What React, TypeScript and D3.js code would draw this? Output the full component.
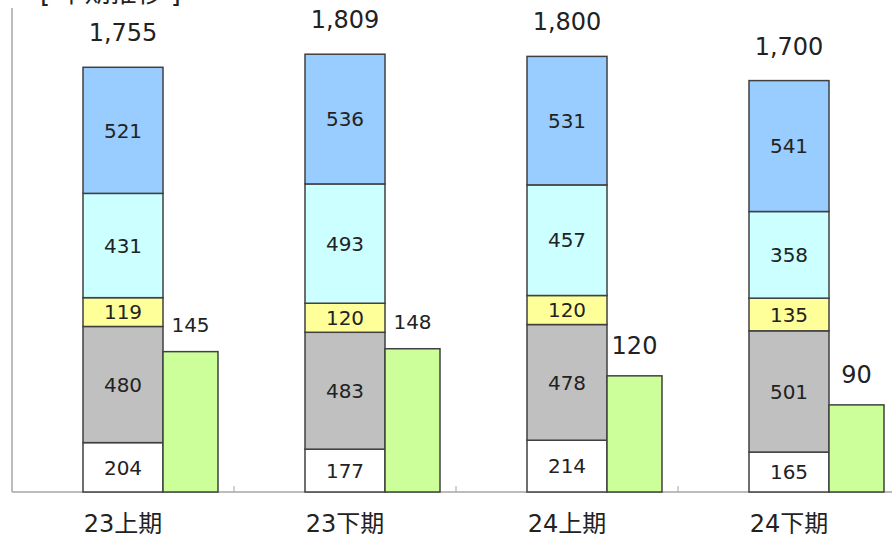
import React from "react";
import * as d3 from "d3";

const categories = ["23上期", "23下期", "24上期", "24下期"];
const seriesKeys = ["s1", "s2", "s3", "s4", "s5"];
const s1 = [204, 177, 214, 165];
const s2 = [480, 483, 478, 501];
const s3 = [119, 120, 120, 135];
const s4 = [431, 493, 457, 358];
const s5 = [521, 536, 531, 541];
const greenValues = [145, 148, 120, 90];
const totalLabels = ["1,755", "1,809", "1,800", "1,700"];
const title = "[ 半期推移 ]";

const seriesColors = ["#ffffff", "#c0c0c0", "#ffff99", "#ccffff", "#99ccff"];
const greenColor = "#ccff99";
const greenFontSizes = [20, 20, 24, 24];

const W = 892;
const H = 534;
const FONT = "'DejaVu Sans', 'Noto Sans CJK JP', sans-serif";

export default function App() {
  const plotLeft = 12;
  const plotRight = 900;
  const plotTop = 8;
  const plotBottom = 492;

  const x = d3.scaleBand<string>().domain(categories).range([plotLeft, plotRight]).padding(0);
  const y = d3.scaleLinear().domain([0, 2000]).range([plotBottom, plotTop]);
  const y2 = d3.scaleLinear().domain([0, 500]).range([plotBottom, plotTop]);

  const rows = categories.map((c, i) => ({
    cat: c,
    s1: s1[i],
    s2: s2[i],
    s3: s3[i],
    s4: s4[i],
    s5: s5[i],
  }));
  const stack = d3.stack<any>().keys(seriesKeys)(rows);

  const barW = 80;
  const greenW = 55;
  const stroke = "#404040";

  return (
    <svg width={W} height={H} style={{ position: "absolute", left: 0, top: 0, background: "#fff" }} fontFamily={FONT}>
      <rect x={0} y={0} width={W} height={H} fill="#ffffff" />
      <text x={40} y={2} fontSize={26} fill="#222">{title}</text>

      {/* axes */}
      <line x1={plotLeft} x2={plotLeft} y1={plotTop} y2={plotBottom} stroke="#a6a6a6" strokeWidth={1.5} />
      <line x1={plotLeft} x2={W} y1={plotBottom} y2={plotBottom} stroke="#a6a6a6" strokeWidth={1.5} />
      {categories.slice(1).map((c) => (
        <line key={c} x1={x(c)!} x2={x(c)!} y1={plotBottom} y2={plotBottom - 6} stroke="#a6a6a6" strokeWidth={1} />
      ))}

      {/* stacked bars */}
      {stack.map((layer, si) =>
        layer.map((d, i) => {
          const cx = x(categories[i])! + x.bandwidth() / 2;
          const y0 = y(d[0]);
          const y1 = y(d[1]);
          const v = d[1] - d[0];
          return (
            <g key={`${si}-${i}`}>
              <rect
                x={cx - barW / 2}
                y={y1}
                width={barW}
                height={y0 - y1}
                fill={seriesColors[si]}
                stroke={stroke}
                strokeWidth={1.5}
              />
              <text x={cx} y={(y0 + y1) / 2} dy="0.36em" textAnchor="middle" fontSize={20} fill="#222">
                {v}
              </text>
            </g>
          );
        })
      )}

      {/* totals */}
      {categories.map((c, i) => {
        const cx = x(c)! + x.bandwidth() / 2;
        const top = y(stack[stack.length - 1][i][1]);
        return (
          <text key={c} x={cx} y={top - 26} textAnchor="middle" fontSize={24} fill="#222">
            {totalLabels[i]}
          </text>
        );
      })}

      {/* green bars (secondary axis) */}
      {categories.map((c, i) => {
        const cx = x(c)! + x.bandwidth() / 2;
        const gx = cx + barW / 2;
        const top = y2(greenValues[i]);
        const fs = greenFontSizes[i];
        return (
          <g key={c}>
            <rect x={gx} y={top} width={greenW} height={plotBottom - top} fill={greenColor} stroke={stroke} strokeWidth={1.5} />
            <text x={gx + greenW / 2} y={top - (fs === 20 ? 20 : 22)} textAnchor="middle" fontSize={fs} fill="#222">
              {greenValues[i]}
            </text>
          </g>
        );
      })}

      {/* category labels */}
      {categories.map((c) => (
        <text key={c} x={x(c)! + x.bandwidth() / 2} y={532} textAnchor="middle" fontSize={24} fill="#222">
          {c}
        </text>
      ))}
    </svg>
  );
}
